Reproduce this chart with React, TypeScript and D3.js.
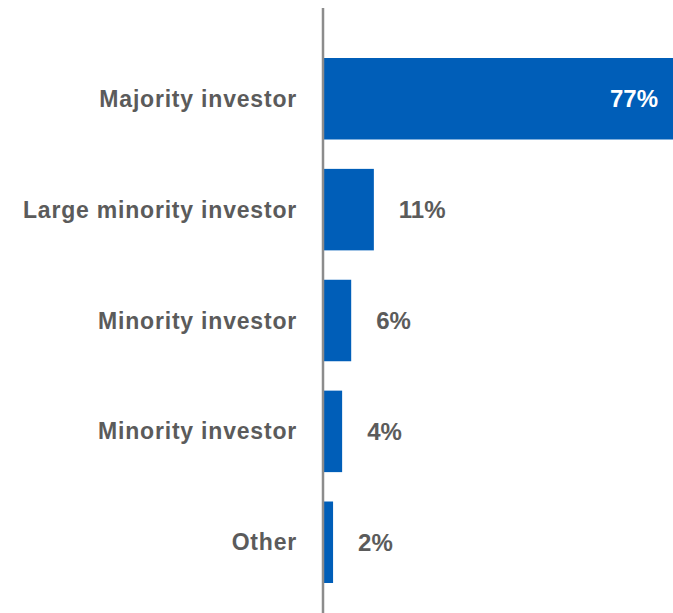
import React from "react";
import * as d3 from "d3";

const categories = [
  "Majority investor",
  "Large minority investor",
  "Minority investor ",
  "Minority investor",
  "Other",
];
const values = [77, 11, 6, 4, 2];
const valueLabels = ["77%", "11%", "6%", "4%", "2%"];

const W = 673;
const H = 613;

export default function App() {
  const x = d3.scaleLinear().domain([0, 77]).range([324, 673]);
  const y = d3
    .scaleBand<string>()
    .domain(categories)
    .range([58, 583])
    .paddingInner(0.265)
    .paddingOuter(0);

  const font = "'Liberation Sans', Arial, Helvetica, sans-serif";
  const gray = "#5b5b5b";

  return (
    <svg
      width={W}
      height={H}
      style={{ position: "fixed", left: 0, top: 0, background: "#fff" }}
    >
      {categories.map((c, i) => {
        const yc = (y(c) as number) + y.bandwidth() / 2;
        const inside = i === 0;
        const xe = x(values[i]);
        return (
          <g key={c}>
            <rect
              x={x(0)}
              y={y(c)}
              width={xe - x(0)}
              height={y.bandwidth()}
              fill="#005eb8"
            />
            <text
              x={297}
              y={yc}
              dy="0.35em"
              textAnchor="end"
              fontFamily={font}
              fontWeight="bold"
              fontSize={23}
              letterSpacing={0.8}
              fill={gray}
            >
              {c.trim()}
            </text>
            <text
              x={inside ? xe - 15 : xe + 25}
              y={yc}
              dy="0.35em"
              textAnchor={inside ? "end" : "start"}
              fontFamily={font}
              fontWeight="bold"
              fontSize={24}
              fill={inside ? "#ffffff" : gray}
            >
              {valueLabels[i]}
            </text>
          </g>
        );
      })}
      <line x1={323} x2={323} y1={8} y2={H} stroke="#8c8c8c" strokeWidth={2.5} />
    </svg>
  );
}
